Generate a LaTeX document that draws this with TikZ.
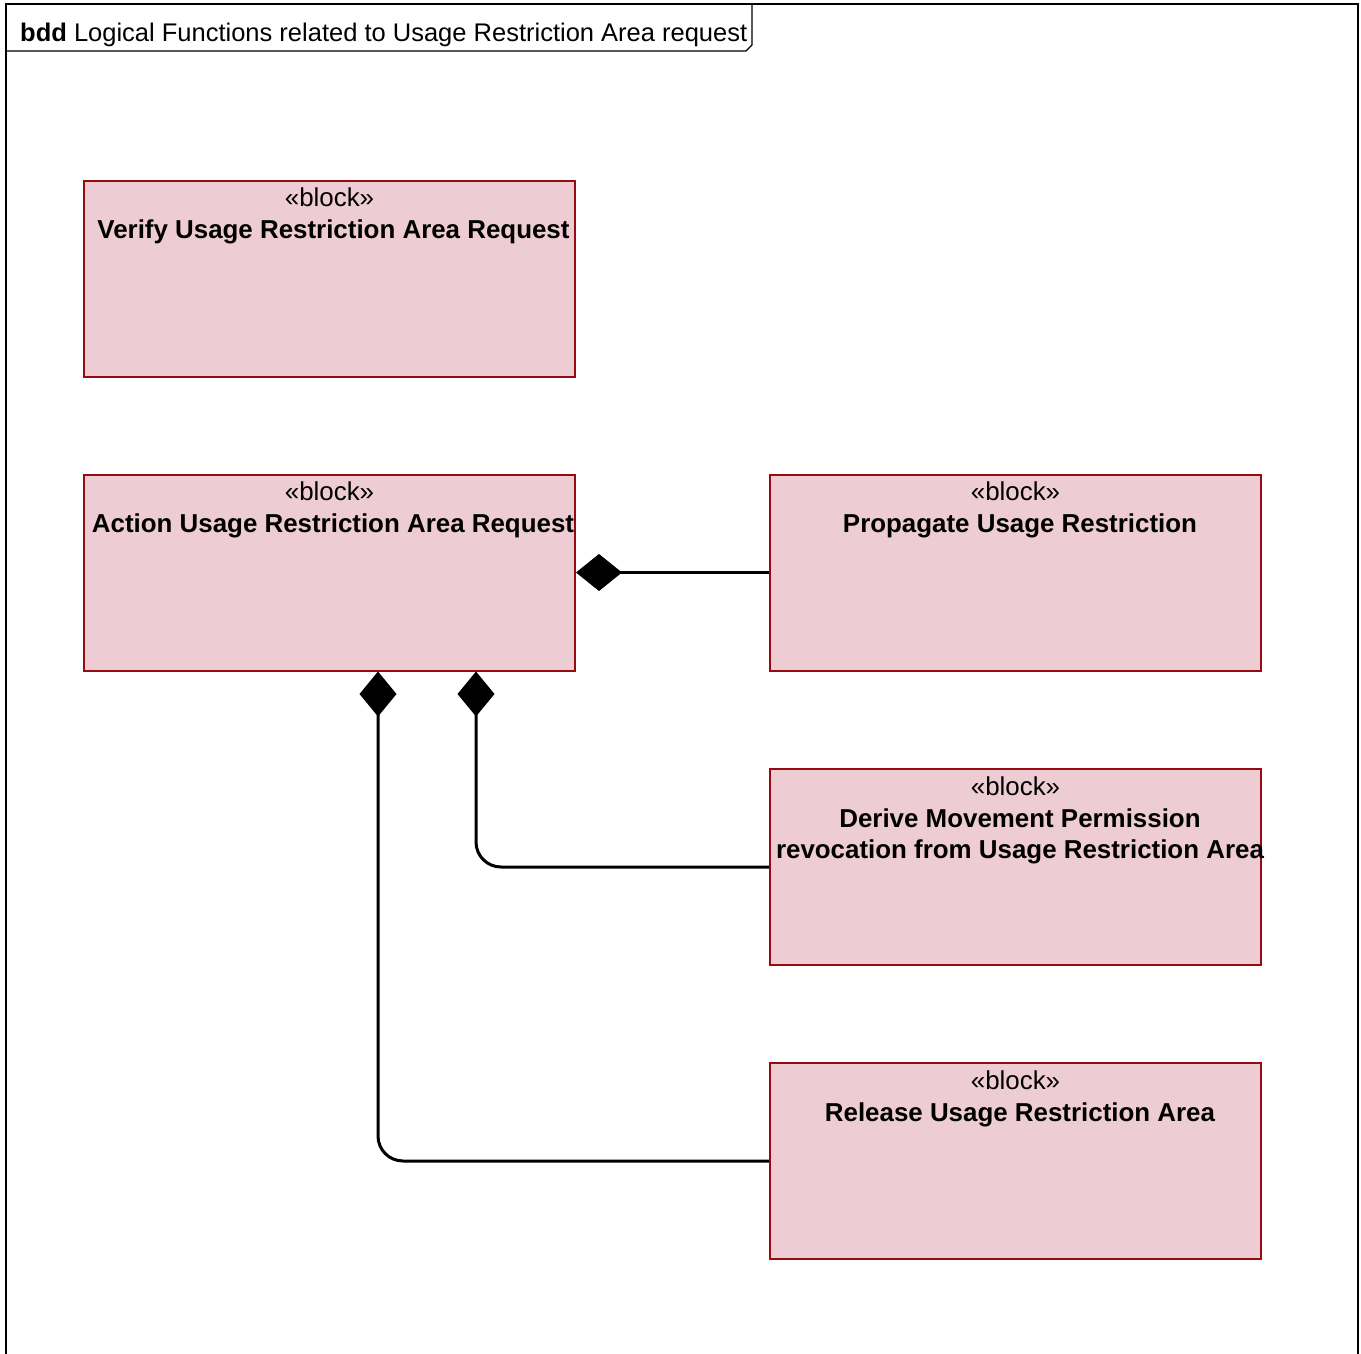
\documentclass[tikz,border=0pt]{standalone}
\usepackage{fontspec}
\setmainfont{Liberation Sans}
\usetikzlibrary{arrows.meta}
\definecolor{blockfill}{RGB}{237,204,211}
\definecolor{blockline}{RGB}{150,10,18}
\tikzset{
  umlblock/.style={draw=blockline, fill=blockfill, line width=2pt,
    minimum width=491pt, minimum height=196pt, inner sep=0pt},
  stereo/.style={anchor=base, inner sep=0pt, font=\fontsize{25.9}{31.5}\selectfont},
  bname/.style={anchor=base, inner sep=0pt, font=\fontsize{25.9}{31.5}\selectfont\bfseries},
  comp/.style={line width=3pt, rounded corners=25pt,
    {Diamond[length=46pt 0 0, width=37pt 0 0]}-},
  compv/.style={line width=3pt, rounded corners=25pt,
    {Diamond[length=45pt 0 0, width=37pt 0 0]}-},
}
\begin{document}
\begin{tikzpicture}[x=1pt, y=-1pt]
\useasboundingbox (0,0) rectangle (1361,1354);
% diagram frame and name tab
\draw[line width=1.2pt] (6,1360) -- (6,4) -- (1358,4) -- (1358,1360);
\draw[line width=1.2pt] (6,51) -- (746,51) -- (752,45) -- (752,4);
\node[anchor=west, inner sep=0pt, font=\fontsize{25.5}{30}\selectfont] (title) at (20,34.5)
  {\textbf{bdd} Logical Functions related to Usage Restriction Area request};

% blocks
\node[umlblock] (ver) at (329.5,278.5) {};
\node[umlblock] (act) at (329.5,572.5) {};
\node[umlblock] (pro) at (1015.5,572.5) {};
\node[umlblock] (der) at (1015.5,867) {};
\node[umlblock] (rel) at (1015.5,1161) {};

% stereotypes and block names
\foreach \b in {ver,act,pro,der,rel}
  \node[stereo] (\b S) at ([yshift=-27pt]\b.north) {«block»};
\node[bname] (verN) at ([xshift=4pt,yshift=-59pt]ver.north) {Verify Usage Restriction Area Request};
\node[bname] (actN) at ([xshift=3.5pt,yshift=-59pt]act.north) {Action Usage Restriction Area Request};
\node[bname] (proN) at ([xshift=4.5pt,yshift=-59pt]pro.north) {Propagate Usage Restriction};
\node[bname] (derN) at ([xshift=4.5pt,yshift=-59pt]der.north) {Derive Movement Permission};
\node[bname] (derM) at ([xshift=4.5pt,yshift=-90.5pt]der.north) {revocation from Usage Restriction Area};
\node[bname] (relN) at ([xshift=4.5pt,yshift=-59pt]rel.north) {Release Usage Restriction Area};

% composition associations
\draw[comp] (act.east) -- (pro.west);
\draw[compv] ([xshift=146.5pt]act.south) |- (der.west);
\draw[compv] ([xshift=48.5pt]act.south) |- (rel.west);
\end{tikzpicture}
\end{document}
